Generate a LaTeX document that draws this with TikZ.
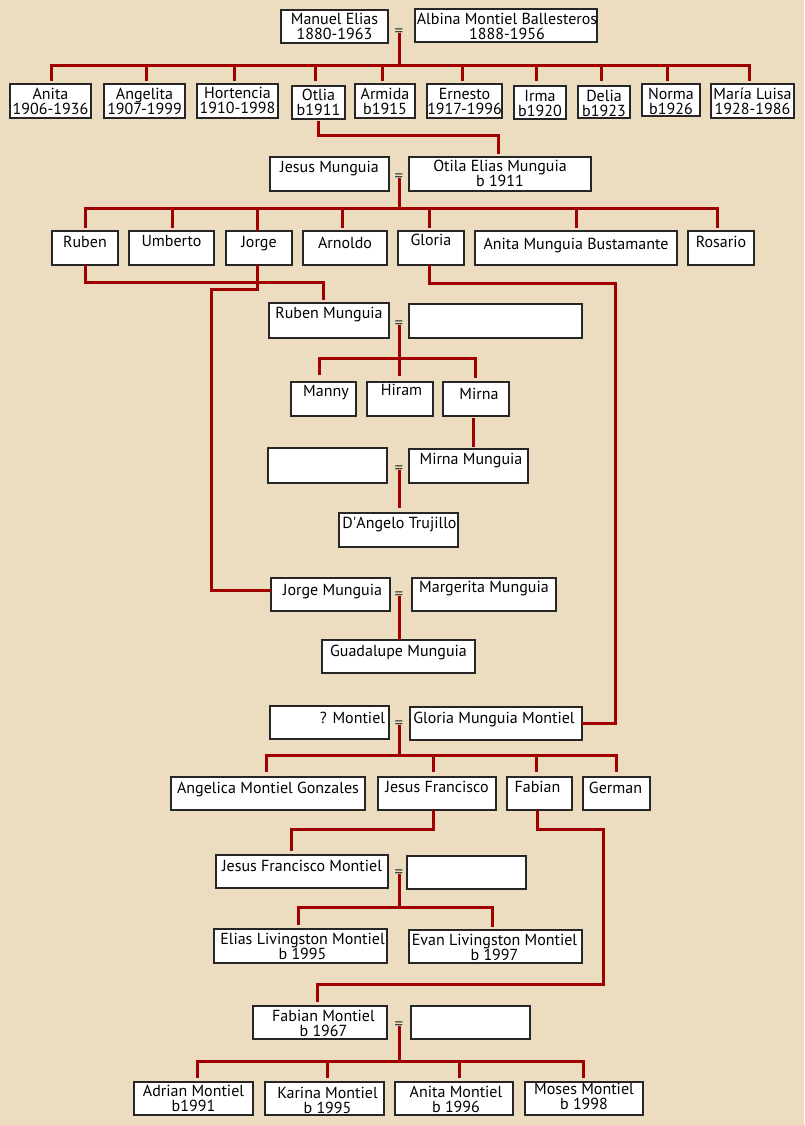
\documentclass[tikz,border=0pt]{standalone}
\usepackage{fontspec}
\setmainfont{PT Sans}
\usetikzlibrary{calc}
\definecolor{bg}{RGB}{237,221,192}
\definecolor{relc}{RGB}{160,0,0}
\definecolor{eqc}{RGB}{60,60,60}
\tikzset{
  pbox/.style={draw=black!85, line width=1.4pt, fill=white, inner sep=0pt, outer sep=0pt},
  lbl/.style={inner sep=0pt, align=center, font=\fontsize{16}{14.8}\selectfont, anchor=north},
  relline/.style={draw=relc, line width=3pt},
  eqsign/.style={inner sep=0pt, text=eqc, font=\fontsize{17}{17}\selectfont, anchor=base}
}
\newcommand\pb[8]{%
  \node[pbox, minimum width={#4pt-#2pt}, minimum height={#5pt-#3pt}] (#1) at ({(#2+#4)/2},{(#3+#5)/2}) {};
  \node[lbl] (#1-t) at ($(#1.north)+(#6,#7)$) {\rule{0pt}{12pt}#8};
}
\newcommand\eb[5]{%
  \node[pbox, minimum width={#4pt-#2pt}, minimum height={#5pt-#3pt}] (#1) at ({(#2+#4)/2},{(#3+#5)/2}) {};
}
\begin{document}
\begin{tikzpicture}[x=1pt,y=-1pt]
\fill[bg] (0,0) rectangle (804,1125);
\useasboundingbox (0,0) rectangle (804,1125);

% ---- generation 1
\pb{manuel}{281}{10}{388}{43}{0}{2}{Manuel Elias\\1880-1963}
\pb{albina}{415}{9}{597}{42}{1}{3}{Albina Montiel Ballesteros\\1888-1956}
\node[eqsign] (eq1) at (399,36) {=};
\coordinate (bar1) at (399,65);
\pb{anita}{10}{84}{91}{118}{0}{3}{Anita\\1906-1936}
\pb{angelita}{104}{84}{185}{118}{0}{3}{Angelita\\1907-1999}
\pb{hortencia}{197}{84}{278}{118}{0}{2}{Hortencia\\1910-1998}
\pb{otlia}{292}{86}{345}{119}{0}{2}{Otlia\\b1911}
\pb{armida}{355}{84}{415}{118}{0}{3}{Armida\\b1915}
\pb{ernesto}{427}{84}{502}{118}{0}{3}{Ernesto\\1917-1996}
\pb{irma}{514}{86}{566}{119}{0}{3}{Irma\\b1920}
\pb{delia}{578}{86}{630}{118}{0}{3}{Delia\\b1923}
\pb{norma}{642}{84}{700}{116}{0}{3}{Norma\\b1926}
\pb{maria}{711}{84}{794}{118}{0}{3}{María Luisa\\1928-1986}
\draw[relline] ($(eq1.south)+(0,-3)$) -- (bar1);
\draw[relline] ($(anita.north)+(0.5,-3)$) |- (bar1) -| ($(maria.north)+(-3.5,-3)$);
\draw[relline] ($(angelita.north)+(1.5,-3)$) |- (bar1);
\draw[relline] ($(hortencia.north)+(-3.5,-3)$) |- (bar1);
\draw[relline] ($(otlia.north)+(-3.5,-5)$) |- (bar1);
\draw[relline] ($(armida.north)+(-3,-3)$) |- (bar1);
\draw[relline] ($(ernesto.north)+(-2.5,-3)$) |- (bar1);
\draw[relline] ($(irma.north)+(-4,-5)$) |- (bar1);
\draw[relline] ($(delia.north)+(-3,-5)$) |- (bar1);
\draw[relline] ($(norma.north)+(-4,-3)$) |- (bar1);

% ---- generation 2
\pb{jesus}{270}{157}{389}{191}{0}{3}{Jesus Munguia}
\pb{otila}{409}{157}{591}{191}{0}{2.5}{Otila Elias Munguia\\b 1911}
\draw[relline] ($(otlia.south)+(-0.5,2)$) -- ++(0,14) -| ($(otila.north)+(-2,-3)$);
\node[eqsign] (eq2) at (399,181) {=};
\coordinate (bar2) at (399,208);
\pb{ruben}{52}{231}{118}{265}{0}{4}{Ruben}
\pb{umberto}{129}{231}{214}{265}{0}{3}{Umberto}
\pb{jorge}{226}{231}{292}{265}{0}{4}{Jorge}
\pb{arnoldo}{303}{231}{387}{265}{0}{5}{Arnoldo}
\pb{gloria}{398}{231}{464}{265}{0}{2}{Gloria}
\pb{anitamb}{475}{231}{677}{265}{0}{6}{Anita Munguia Bustamante}
\pb{rosario}{688}{231}{754}{265}{0}{4}{Rosario}
\draw[relline] ($(eq2.south)+(0,-3)$) -- (bar2);
\draw[relline] ($(ruben.north)+(0,-3)$) |- (bar2) -| ($(rosario.north)+(-4,-3)$);
\draw[relline] ($(umberto.north)+(1,-3)$) |- (bar2);
\draw[relline] ($(jorge.north)+(-2,0)$) |- (bar2);
\draw[relline] ($(arnoldo.north)+(-3,-3)$) |- (bar2);
\draw[relline] ($(gloria.north)+(-2,-3)$) |- (bar2);
\draw[relline] ($(anitamb.north)+(0,-3)$) |- (bar2);

% ---- Ruben Munguia
\pb{rubenm}{269}{303}{389}{338}{0}{3}{Ruben Munguia}
\eb{wife3}{409}{304}{582}{338}
\node[eqsign] (eq3) at (399,328) {=};
\coordinate (bar3) at (399,358);
\pb{manny}{291}{382}{356}{416}{2.5}{2}{Manny}
\pb{hiram}{367}{382}{433}{416}{1.5}{1}{Hiram}
\pb{mirna}{443}{382}{509}{416}{3}{5}{Mirna}
\draw[relline] (ruben.south) -- ++(0,17) -| ($(rubenm.north)+(-6,-3)$);
\draw[relline] ($(eq3.south)+(0,-3)$) -- ($(hiram.north)+(-1,-6)$);
\draw[relline] ($(manny.north)+(-4.5,-7)$) |- (bar3) -| ($(mirna.north)+(-1,-4)$);

% ---- Mirna Munguia
\eb{husb4}{268}{448}{387}{483}
\node[eqsign] (eq4) at (399,473) {=};
\pb{mirnam}{409}{449}{528}{483}{2.5}{3}{Mirna Munguia}
\pb{dangelo}{339}{513}{458}{547}{1}{3}{D\textquotesingle Angelo Trujillo}
\draw[relline] ($(mirna.south)+(-3,2)$) -- ($(mirna.south |- mirnam.north)+(-3,-2)$);
\draw[relline] ($(eq4.south)+(0,-3)$) -- ($(eq4.south |- dangelo.north)+(0,-5)$);

% ---- Jorge Munguia
\pb{jorgem}{271}{578}{390}{611}{2}{5}{Jorge Munguia}
\node[eqsign] (eq5) at (399,599) {=};
\pb{margerita}{412}{578}{556}{611}{0}{2}{Margerita Munguia}
\pb{guadalupe}{322}{640}{475}{673}{0}{4}{Guadalupe Munguia}
\coordinate (jc1) at (211,289);
\coordinate (jc2) at (211,590);
\draw[relline] ($(jorge.south)+(-2,0)$) |- (jc1) -- (jc2) -- (jc2 -| jorgem.west);
\draw[relline] ($(eq5.south)+(0,-3)$) -- (eq5.south |- guadalupe.north);

% ---- Gloria Munguia Montiel
\pb{qmontiel}{270}{706}{389}{739}{23}{5}{? Montiel}
\node[eqsign] (eq6) at (399,728) {=};
\pb{gloriamm}{410}{707}{582}{740}{-2}{4}{Gloria Munguia Montiel}
\coordinate (gc1) at (615,283);
\draw[relline] ($(gloria.south)+(-2,0)$) |- (gc1) -- (gc1 |- gloriamm.east) -- (gloriamm.east);
\coordinate (bar6) at (399,755);
\pb{angelica}{171}{777}{365}{810}{0}{4}{Angelica Montiel Gonzales}
\pb{jesusf}{378}{777}{496}{810}{0}{3}{Jesus Francisco}
\pb{fabian}{507}{777}{572}{810}{-2}{3}{Fabian}
\pb{german}{583}{777}{650}{810}{-1}{4}{German}
\draw[relline] ($(eq6.south)+(0,-3)$) -- (bar6);
\draw[relline] ($(angelica.north)+(-2,-5)$) |- (bar6) -| ($(german.north)+(-0.5,-5)$);
\draw[relline] ($(jesusf.north)+(-4,-5)$) |- (bar6);
\draw[relline] ($(fabian.north)+(-3.5,-5)$) |- (bar6);

% ---- Jesus Francisco Montiel
\pb{jfm}{216}{855}{388}{888}{0}{4}{Jesus Francisco Montiel}
\node[eqsign] (eq7) at (399,877) {=};
\eb{wife7}{407}{856}{526}{889}
\coordinate (bar7) at (399,907);
\pb{elias}{214}{929}{387}{963}{2}{3}{Elias Livingston Montiel\\b 1995}
\pb{evan}{409}{930}{582}{963}{-1}{3}{Evan Livingston Montiel\\b 1997}
\draw[relline] ($(jesusf.south)+(-4,0)$) -- ++(0,19) -| ($(jfm.north)+(-11,-4)$);
\draw[relline] ($(eq7.south)+(0,-3)$) -- (bar7);
\draw[relline] ($(elias.north)+(-2.5,-4)$) |- (bar7) -| ($(evan.north)+(-3.5,-3)$);

% ---- Fabian Montiel
\pb{fabianm}{253}{1006}{387}{1039}{3.5}{3}{Fabian Montiel\\b 1967}
\node[eqsign] (eq8) at (399,1029) {=};
\eb{wife8}{411}{1006}{530}{1039}
\coordinate (fc) at (603,984);
\draw[relline] ($(fabian.south)+(-2.5,0)$) -- ++(0,19) -| (fc) -| ($(fabianm.north)+(-3,-4)$);
\coordinate (bar8) at (399,1061);
\pb{adrian}{134}{1082}{253}{1115}{0}{2}{Adrian Montiel\\b1991}
\pb{karina}{265}{1082}{384}{1115}{3}{4}{Karina Montiel\\b 1995}
\pb{anitam}{395}{1082}{513}{1115}{2}{3}{Anita Montiel\\b 1996}
\pb{moses}{525}{1082}{643}{1115}{0}{0}{Moses Montiel\\b 1998}
\draw[relline] ($(eq8.south)+(0,-3)$) -- (bar8);
\draw[relline] ($(adrian.north)+(3.5,-4)$) |- (bar8) -| ($(moses.north)+(-1,-4)$);
\draw[relline] ($(karina.north)+(2.5,-4)$) |- (bar8);
\draw[relline] ($(anitam.north)+(5,-4)$) |- (bar8);
\end{tikzpicture}
\end{document}
